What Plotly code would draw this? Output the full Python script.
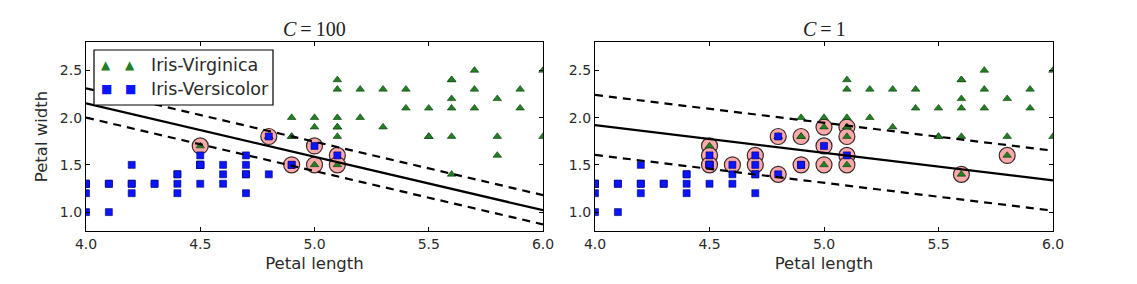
import plotly.graph_objects as go

# ---------------- data ----------------
versicolor_length = [4.7, 4.5, 4.9, 4.0, 4.6, 4.5, 4.7, 3.3, 4.6, 3.9, 3.5, 4.2, 4.0, 4.7, 3.6,
                     4.4, 4.5, 4.1, 4.5, 3.9, 4.8, 4.0, 4.9, 4.7, 4.3, 4.4, 4.8, 5.0, 4.5, 3.5,
                     3.8, 3.7, 3.9, 5.1, 4.5, 4.5, 4.7, 4.4, 4.1, 4.0, 4.4, 4.6, 4.0, 3.3, 4.2,
                     4.2, 4.2, 4.3, 3.0, 4.1]
versicolor_width = [1.4, 1.5, 1.5, 1.3, 1.5, 1.3, 1.6, 1.0, 1.3, 1.4, 1.0, 1.5, 1.0, 1.4, 1.3,
                    1.4, 1.5, 1.0, 1.5, 1.1, 1.8, 1.3, 1.5, 1.2, 1.3, 1.4, 1.4, 1.7, 1.5, 1.0,
                    1.1, 1.0, 1.2, 1.6, 1.5, 1.6, 1.5, 1.3, 1.3, 1.3, 1.2, 1.4, 1.2, 1.0, 1.3,
                    1.2, 1.3, 1.3, 1.1, 1.3]
virginica_length = [6.0, 5.1, 5.9, 5.6, 5.8, 6.6, 4.5, 6.3, 5.8, 6.1, 5.1, 5.3, 5.5, 5.0, 5.1,
                    5.3, 5.5, 6.7, 6.9, 5.0, 5.7, 4.9, 6.7, 4.9, 5.7, 6.0, 4.8, 4.9, 5.6, 5.8,
                    6.1, 6.4, 5.6, 5.1, 5.6, 6.1, 5.6, 5.5, 4.8, 5.4, 5.6, 5.1, 5.1, 5.9, 5.7,
                    5.2, 5.0, 5.2, 5.4, 5.1]
virginica_width = [2.5, 1.9, 2.1, 1.8, 2.2, 2.1, 1.7, 1.8, 1.8, 2.5, 2.0, 1.9, 2.1, 2.0, 2.4,
                   2.3, 1.8, 2.2, 2.3, 1.5, 2.3, 2.0, 2.0, 1.8, 2.1, 1.8, 1.8, 1.8, 2.1, 1.6,
                   1.9, 2.0, 2.2, 1.5, 1.4, 2.3, 2.4, 1.8, 1.8, 2.1, 2.4, 2.3, 1.9, 2.3, 2.5,
                   2.3, 1.9, 2.0, 2.3, 1.8]

# support vectors (highlighted points)
sv_c100_length = [4.5, 4.8, 4.9, 5.0, 5.0, 5.1, 5.1]
sv_c100_width = [1.7, 1.8, 1.5, 1.7, 1.5, 1.6, 1.5]
sv_c1_length = [4.5, 4.5, 4.5, 4.6, 4.7, 4.7, 4.8, 4.8, 4.9, 4.9, 5.0, 5.0, 5.0,
                5.1, 5.1, 5.1, 5.1, 5.6, 5.8]
sv_c1_width = [1.7, 1.6, 1.5, 1.5, 1.6, 1.5, 1.8, 1.4, 1.8, 1.5, 1.9, 1.7, 1.5,
               1.9, 1.8, 1.6, 1.5, 1.4, 1.6]

# decision boundary and margins, evaluated at x = 4 and x = 6
boundary_x = [4.0, 6.0]
c100_boundary = [2.15, 1.02]
c100_upper = [2.31, 1.18]
c100_lower = [2.00, 0.87]
c1_boundary = [1.92, 1.335]
c1_upper = [2.24, 1.65]
c1_lower = [1.605, 1.015]

titles = ["<i>C</i>\u2009=\u2009100", "<i>C</i>\u2009=\u20091"]
x_ticks = [4.0, 4.5, 5.0, 5.5, 6.0]
y_ticks = [1.0, 1.5, 2.0, 2.5]
legend_labels = ["Iris-Virginica", "Iris-Versicolor"]

# ---------------- layout geometry ----------------
W, H = 1137, 284
ML, MR, MT, MB = 86, 84, 42, 53
PW, PH = W - ML - MR, H - MT - MB


def px_x(p):
    return (p - ML) / PW


def px_y(p):
    return (H - MB - p) / PH


GREEN = "#237f23"
BLUE = "#0a14ff"
PINK = "#FFAAAA"
TEXT = "#2a2a2a"

fig = go.Figure()

panels = [
    ("x", "y", sv_c100_length, sv_c100_width, c100_boundary, c100_upper, c100_lower),
    ("x2", "y2", sv_c1_length, sv_c1_width, c1_boundary, c1_upper, c1_lower),
]

for xa, ya, svx, svy, bnd, up, lo in panels:
    fig.add_trace(go.Scatter(x=svx, y=svy, mode="markers", xaxis=xa, yaxis=ya,
                             marker=dict(size=16, color=PINK, line=dict(width=1.2, color="#3a2a2a")),
                             showlegend=False, hoverinfo="skip"))
    fig.add_trace(go.Scatter(x=virginica_length, y=virginica_width, mode="markers",
                             xaxis=xa, yaxis=ya, name=legend_labels[0],
                             marker=dict(symbol="triangle-up", size=7.5, color=GREEN,
                                         line=dict(width=0.6, color="#0b3a0b")),
                             showlegend=False))
    fig.add_trace(go.Scatter(x=versicolor_length, y=versicolor_width, mode="markers",
                             xaxis=xa, yaxis=ya, name=legend_labels[1],
                             marker=dict(symbol="square", size=7, color=BLUE,
                                         line=dict(width=0.6, color="#00006a")),
                             showlegend=False))
    fig.add_trace(go.Scatter(x=boundary_x, y=bnd, mode="lines", xaxis=xa, yaxis=ya,
                             line=dict(color="black", width=2.2), showlegend=False,
                             hoverinfo="skip"))
    for arr in (up, lo):
        fig.add_trace(go.Scatter(x=boundary_x, y=arr, mode="lines", xaxis=xa, yaxis=ya,
                                 line=dict(color="black", width=2.2, dash="8px,6px"),
                                 showlegend=False, hoverinfo="skip"))

axis_common = dict(
    showline=True, linecolor="black", linewidth=1.2, mirror="allticks",
    ticks="inside", ticklen=4, tickwidth=1, tickcolor="black",
    showgrid=False, zeroline=False,
    tickfont=dict(family="DejaVu Sans", size=14, color=TEXT),
)

left_dom = [0, px_x(543)]
right_dom = [px_x(595), 1]

fig.update_layout(
    width=W, height=H,
    margin=dict(l=ML, r=MR, t=MT, b=MB),
    paper_bgcolor="white", plot_bgcolor="white",
    showlegend=False,
    xaxis=dict(domain=left_dom, range=[4.0, 6.0], tickvals=x_ticks, ticktext=[f"{v:.1f}" for v in x_ticks],
               title=dict(text="Petal length", standoff=6,
                          font=dict(family="DejaVu Sans", size=16.5, color=TEXT)),
               anchor="y", **axis_common),
    yaxis=dict(domain=[0, 1], range=[0.8, 2.8], tickvals=y_ticks, ticktext=[f"{v:.1f}" for v in y_ticks],
               title=dict(text="Petal width", standoff=8,
                          font=dict(family="DejaVu Sans", size=16.5, color=TEXT)),
               anchor="x", **axis_common),
    xaxis2=dict(domain=right_dom, range=[4.0, 6.0], tickvals=x_ticks, ticktext=[f"{v:.1f}" for v in x_ticks],
                title=dict(text="Petal length", standoff=6,
                           font=dict(family="DejaVu Sans", size=16.5, color=TEXT)),
                anchor="y2", **axis_common),
    yaxis2=dict(domain=[0, 1], range=[0.8, 2.8], tickvals=y_ticks, ticktext=[f"{v:.1f}" for v in y_ticks],
                anchor="x2", **axis_common),
)

# titles
for cx, txt in zip([(ML + 543) / 2, (595 + 1053) / 2], titles):
    fig.add_annotation(x=px_x(cx), y=px_y(29), xref="paper", yref="paper", text=txt,
                       showarrow=False, xanchor="center", yanchor="middle",
                       font=dict(family="Liberation Serif", size=20, color="#222"))

# manual legend (two markers per entry, as in the reference)
fig.add_shape(type="rect", xref="paper", yref="paper",
              x0=px_x(94), x1=px_x(273), y0=px_y(105), y1=px_y(50),
              line=dict(color="black", width=1.2), fillcolor="white", layer="above")
for row_y, glyph, col, lab in [(65, "▲", GREEN, legend_labels[0]), (89, "■", BLUE, legend_labels[1])]:
    for mx in (106, 130):
        fig.add_annotation(x=px_x(mx), y=px_y(row_y), xref="paper", yref="paper", text=glyph,
                           showarrow=False, xanchor="center", yanchor="middle",
                           font=dict(family="DejaVu Sans", size=12, color=col))
    fig.add_annotation(x=px_x(149), y=px_y(row_y), xref="paper", yref="paper", text=lab,
                       showarrow=False, xanchor="left", yanchor="middle",
                       font=dict(family="DejaVu Sans", size=17.5, color=TEXT))

fig.write_html("out.html")
